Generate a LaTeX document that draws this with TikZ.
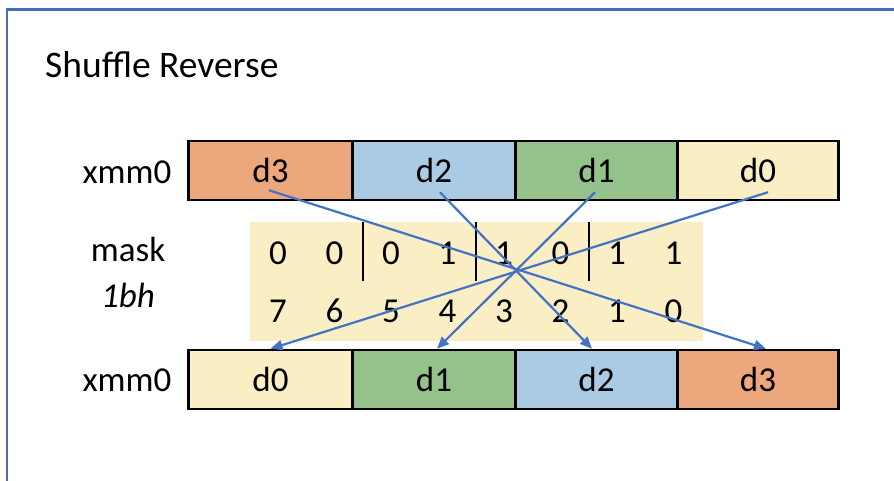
\documentclass[tikz,border=0pt]{standalone}
\usepackage{fontspec}
\setmainfont{Carlito}
\usetikzlibrary{arrows.meta}
\definecolor{cOrange}{HTML}{EDA77D}
\definecolor{cBlue}{HTML}{ABCBE5}
\definecolor{cGreen}{HTML}{95C28B}
\definecolor{cYellow}{HTML}{FAEEC4}
\definecolor{cLine}{HTML}{4472C4}
\definecolor{cFrame}{HTML}{4370B8}
\begin{document}
\begin{tikzpicture}[x=1pt,y=-1pt,
  font=\fontsize{35}{42}\selectfont,
  frameline/.style={draw=cFrame, line width=2.8pt},
  cell/.style={draw=black, line width=2.5pt, minimum height=59pt, inner sep=0pt},
  lbl/.style={inner sep=0pt},
  digit/.style={inner sep=0pt},
  sep/.style={draw=black, line width=2pt},
  arr/.style={draw=cLine, line width=2.2pt, -{Triangle[length=12pt,width=10pt]}}
]
\useasboundingbox (0,0) rectangle (894,481);
\draw[frameline] (894,9.5) -- (7,9.5) -- (7,481);

\node[lbl, anchor=base west, font=\fontsize{37.5}{45}\selectfont] (title) at (45,78) {Shuffle Reverse};

% labels
\node[lbl] (xtop) at (127,172) {xmm0};
\node[lbl] (xbot) at (127,380) {xmm0};
\node[lbl] (mask) at (128,249) {mask};
\node[lbl] (imm) at (128,295) {\itshape 1bh};

% mask background
\node[fill=cYellow, minimum width=453pt, minimum height=119pt, inner sep=0pt] (maskbg) at (476.5,281.5) {};
\foreach \v [count=\i from 0] in {0,0,0,1,1,0,1,1} {
  \node[digit] (m\i) at ({278+56.5*\i},253) {\v};
}
\foreach \v [count=\i from 0] in {7,6,5,4,3,2,1,0} {
  \node[digit] (n\i) at ({278+56.5*\i},311) {\v};
}
\draw[sep] (363,222) -- (363,281);
\draw[sep] (476,222) -- (476,281);
\draw[sep] (589,222) -- (589,281);

% top register
\node[cell, fill=cOrange, minimum width=164pt] (t3) at (270.5,170.5) {d3};
\node[cell, fill=cBlue, minimum width=163pt] (t2) at (434,170.5) {d2};
\node[cell, fill=cGreen, minimum width=162pt] (t1) at (596.5,170.5) {d1};
\node[cell, fill=cYellow, minimum width=161pt] (t0) at (758,170.5) {d0};

% bottom register
\node[cell, fill=cYellow, minimum width=164pt] (b0) at (270.5,379.5) {d0};
\node[cell, fill=cGreen, minimum width=163pt] (b1) at (434,379.5) {d1};
\node[cell, fill=cBlue, minimum width=162pt] (b2) at (596.5,379.5) {d2};
\node[cell, fill=cOrange, minimum width=161pt] (b3) at (758,379.5) {d3};

% arrows
\draw[arr] ([xshift=-1.5pt,yshift=11pt]t3.south) -- ([xshift=8pt]b3.north);
\draw[arr] ([xshift=6pt,yshift=9pt]t2.south) -- ([xshift=-4.5pt]b2.north);
\draw[arr] ([xshift=-1.5pt,yshift=9pt]t1.south) -- ([xshift=3pt]b1.north);
\draw[arr] ([xshift=10pt,yshift=9pt]t0.south) -- ([xshift=0pt]b0.north);
\end{tikzpicture}
\end{document}
